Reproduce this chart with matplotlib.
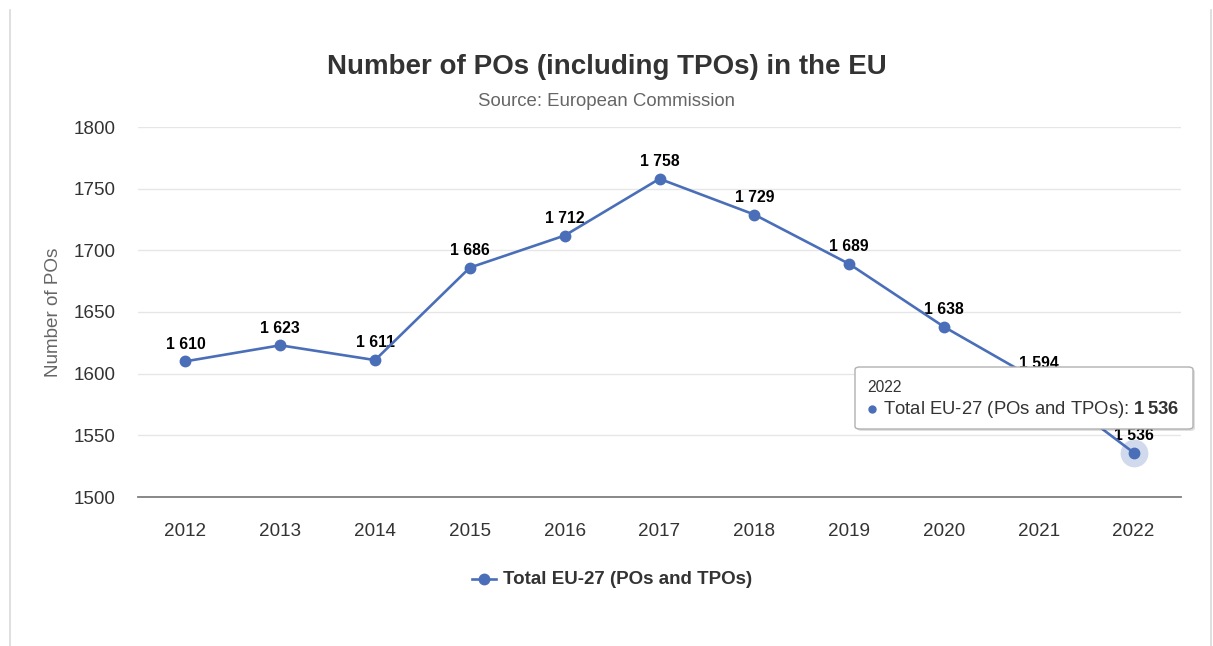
import matplotlib
matplotlib.use("Agg")
import matplotlib.pyplot as plt
from matplotlib.patches import FancyBboxPatch
from matplotlib.lines import Line2D

plt.rcParams['font.family'] = ['Liberation Sans', 'DejaVu Sans']
plt.rcParams['mathtext.fontset'] = 'custom'
plt.rcParams['mathtext.rm'] = 'Liberation Sans'
plt.rcParams['mathtext.bf'] = 'Liberation Sans:bold'

years = ['2012', '2013', '2014', '2015', '2016', '2017', '2018', '2019', '2020', '2021', '2022']
values = [1610, 1623, 1611, 1686, 1712, 1758, 1729, 1689, 1638, 1594, 1536]
yticks = [1500, 1550, 1600, 1650, 1700, 1750, 1800]
series_name = 'Total EU-27 (POs and TPOs)'
title = 'Number of POs (including TPOs) in the EU'
subtitle = 'Source: European Commission'
ylabel = 'Number of POs'

W, H = 1213, 646
fig = plt.figure(figsize=(W / 100, H / 100), dpi=100)
ax = fig.add_axes([138 / W, 1 - 497 / H, (1181 - 138) / W, (497 - 127) / H])

color = '#4a6fb8'
x = list(range(len(years)))

ax.plot(x, values, color=color, lw=1.9, marker='o', ms=7.5, zorder=5)
# halo on hovered point
ax.plot([x[-1]], [values[-1]], 'o', ms=20, color=color, alpha=0.25, mec='none', zorder=2)

def fmt(v):
    return f"{v:,}".replace(',', ' ')

for xi, v in zip(x, values):
    ax.annotate(fmt(v), (xi, v), xytext=(0, 7), textcoords='offset points',
                ha='center', va='bottom', fontsize=11.3, fontweight='bold',
                color='black', zorder=4)

ax.set_xlim(-0.5, len(years) - 0.5)
ax.set_ylim(yticks[0], yticks[-1])
ax.set_yticks(yticks)
ax.set_xticks(x)
ax.set_xticklabels(years)
ax.tick_params(axis='both', length=0, labelsize=13.6, colors='#333333')
ax.tick_params(axis='x', pad=18.5)
ax.tick_params(axis='y', pad=16)
ax.grid(axis='y', color='#e6e6e6', lw=1)
ax.set_axisbelow(True)
for s in ['top', 'right', 'left']:
    ax.spines[s].set_visible(False)
ax.spines['bottom'].set_color('#7f7f7f')
ax.spines['bottom'].set_linewidth(1.3)

fig.text(0.5, 1 - 67.5 / H, title, ha='center', va='center', fontsize=20,
         fontweight='bold', color='#333333')
fig.text(0.5, 1 - 101 / H, subtitle, ha='center', va='center', fontsize=13.4,
         color='#666666')
fig.text(53 / W, 1 - 312 / H, ylabel, rotation=90, ha='center', va='center',
         fontsize=13.6, color='#666666')

# legend
leg_y = 1 - 579 / H
fig.add_artist(Line2D([472 / W, 496 / W], [leg_y, leg_y], color=color, lw=1.9,
                      transform=fig.transFigure))
fig.add_artist(Line2D([484 / W], [leg_y], color=color, marker='o', ms=7.5,
                      transform=fig.transFigure))
fig.text(503 / W, leg_y, series_name, ha='left', va='center', fontsize=13.5,
         fontweight='bold', color='#333333')

# tooltip
bx0, by0, bx1, by1 = 855, 367, 1193, 429
shadow = FancyBboxPatch(((bx0 + 2) / W, 1 - (by1 + 2) / H), (bx1 - bx0) / W, (by1 - by0) / H,
                        boxstyle='round,pad=0,rounding_size=0.004', transform=fig.transFigure,
                        fc='#000000', ec='none', alpha=0.12, zorder=9)
fig.add_artist(shadow)
box = FancyBboxPatch((bx0 / W, 1 - by1 / H), (bx1 - bx0) / W, (by1 - by0) / H,
                     boxstyle='round,pad=0,rounding_size=0.004', transform=fig.transFigure,
                     fc='white', ec='#b0b0b0', lw=1, zorder=10)
fig.add_artist(box)
fig.text(867 / W, 1 - 387 / H, years[-1], ha='left', va='center', fontsize=11.2,
         color='#333333', zorder=11)
fig.add_artist(Line2D([872 / W], [1 - 409 / H], color=color, marker='o', ms=5,
                      transform=fig.transFigure, zorder=11))
fig.text(883 / W, 1 - 409 / H, series_name + ': ' + r'$\mathbf{' + fmt(values[-1]).replace(' ', r'\,') + '}$',
         ha='left', va='center', fontsize=13.3, color='#333333', zorder=11)

# page borders
fig.add_artist(Line2D([10 / W, 10 / W], [0, 1 - 10 / H], color='#d9d9d9', lw=1.2,
                      transform=fig.transFigure))
fig.add_artist(Line2D([1211 / W, 1211 / W], [0, 1 - 10 / H], color='#d9d9d9', lw=1.2,
                      transform=fig.transFigure))

fig.savefig('out.png', dpi=100, facecolor='white')
